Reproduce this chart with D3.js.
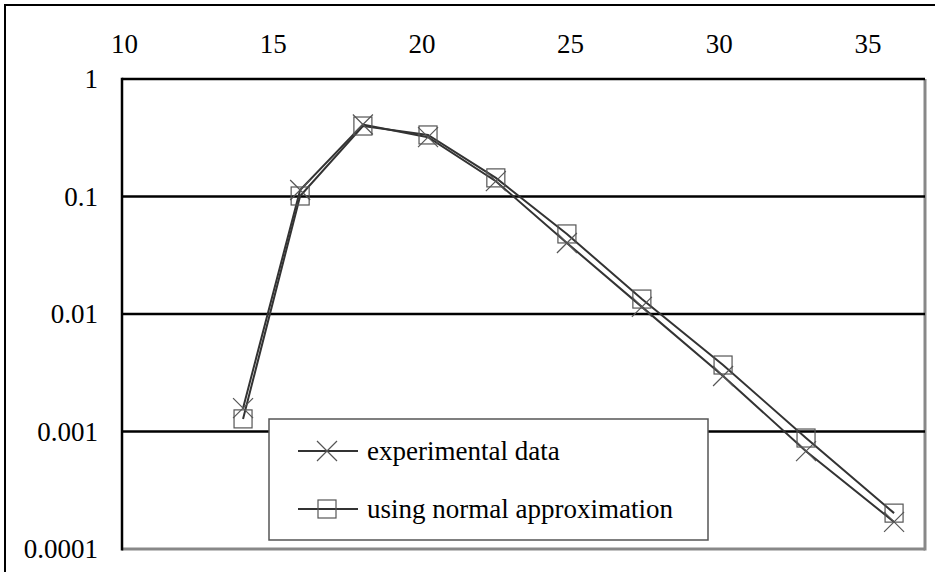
<!DOCTYPE html>
<html>
<head>
<meta charset="utf-8">
<script src="https://cdn.jsdelivr.net/npm/d3@7"></script>
<style>
  body { margin: 0; background: #fff; }
  svg { display: block; }
  text { font-family: "Liberation Serif", Tinos, "Times New Roman", Times, "DejaVu Serif", serif; fill: #000; }
</style>
</head>
<body>
<svg id="chart" width="935" height="572"></svg>
<script>
// values
const xValues = [14.07, 15.99, 18.1, 20.29, 22.57, 24.96, 27.48, 30.21, 33.0, 35.96]
const experimental = [0.00158, 0.1135, 0.41, 0.32, 0.135, 0.0402, 0.0115, 0.00297, 0.00068, 0.00017]
const normalApprox = [0.00128, 0.101, 0.398, 0.334, 0.144, 0.048, 0.0134, 0.00368, 0.00088, 0.000202]
const xTicks = [10, 15, 20, 25, 30, 35]
const yTicks = [1, 0.1, 0.01, 0.001, 0.0001]
const yTickLabels = ['1', '0.1', '0.01', '0.001', '0.0001']
const seriesNames = ['experimental data', 'using normal approximation']

const serif = '"Liberation Serif", Tinos, "Times New Roman", Times, "DejaVu Serif", serif'

const svg = d3.select('#chart')
const plot = { left: 122, top: 79, right: 925, bottom: 549 }

const xScale = d3.scaleLinear().domain([10, 37]).range([plot.left, plot.right])
const yScale = d3.scaleLog().domain([0.0001, 1]).range([plot.bottom, plot.top])

// outer frame (only top and left edges are visible in the picture)
svg.append('rect')
  .attr('x', 5).attr('y', 5)
  .attr('width', 960).attr('height', 600)
  .attr('fill', 'none')
  .attr('stroke', '#000')
  .attr('stroke-width', 2)

// plot area border: gray right / bottom, black left
svg.append('line')
  .attr('x1', plot.left).attr('x2', plot.right)
  .attr('y1', plot.bottom).attr('y2', plot.bottom)
  .attr('stroke', '#888').attr('stroke-width', 3)
svg.append('line')
  .attr('x1', plot.right).attr('x2', plot.right)
  .attr('y1', plot.top).attr('y2', plot.bottom + 1.5)
  .attr('stroke', '#888').attr('stroke-width', 3)

// horizontal gridlines (black)
svg.append('g')
  .selectAll('line')
  .data(yTicks.filter(d => d > 0.0001))
  .enter()
  .append('line')
  .attr('x1', plot.left).attr('x2', plot.right)
  .attr('y1', d => yScale(d)).attr('y2', d => yScale(d))
  .attr('stroke', '#000')
  .attr('stroke-width', 2.5)

svg.append('line')
  .attr('x1', plot.left).attr('x2', plot.left)
  .attr('y1', plot.top - 1.25).attr('y2', plot.bottom + 1.5)
  .attr('stroke', '#000').attr('stroke-width', 2.5)

// x axis labels on top
const xAxis = d3.axisTop(xScale)
  .tickValues(xTicks)
  .tickSize(0)
  .tickPadding(0)
  .tickFormat(d3.format('d'))
svg.append('g')
  .attr('transform', 'translate(2,' + 53 + ')')
  .call(xAxis)
  .attr('font-family', serif)
  .attr('font-size', 27)
  .call(g => g.select('.domain').remove())
  .selectAll('text')
  .attr('dy', 0)

// y axis labels
const yAxis = d3.axisLeft(yScale)
  .tickValues(yTicks)
  .tickSize(0)
  .tickPadding(0)
  .tickFormat((d, i) => yTickLabels[i])
svg.append('g')
  .attr('transform', 'translate(' + 98 + ',0)')
  .call(yAxis)
  .attr('font-family', serif)
  .attr('font-size', 27)
  .call(g => g.select('.domain').remove())
  .selectAll('text')
  .attr('dy', '0.33em')

const line = d3.line()
  .x((d, i) => xScale(xValues[i]))
  .y(d => yScale(d))

function drawCross(g, cx, cy, r) {
  g.append('path')
    .attr('d', `M${cx - r},${cy - r}L${cx + r},${cy + r}M${cx - r},${cy + r}L${cx + r},${cy - r}`)
    .attr('stroke', '#555')
    .attr('stroke-width', 1.2)
    .attr('fill', 'none')
}

function drawSquare(g, cx, cy, r) {
  g.append('rect')
    .attr('x', cx - r).attr('y', cy - r)
    .attr('width', 2 * r).attr('height', 2 * r)
    .attr('stroke', '#555')
    .attr('stroke-width', 1.2)
    .attr('fill', 'none')
}

const seriesG = svg.append('g')

seriesG.append('path')
  .datum(normalApprox)
  .attr('d', line)
  .attr('fill', 'none')
  .attr('stroke', '#333')
  .attr('stroke-width', 2)

seriesG.append('path')
  .datum(experimental)
  .attr('d', line)
  .attr('fill', 'none')
  .attr('stroke', '#333')
  .attr('stroke-width', 2)

normalApprox.forEach((d, i) => drawSquare(seriesG, xScale(xValues[i]), yScale(d), 9))
experimental.forEach((d, i) => drawCross(seriesG, xScale(xValues[i]), yScale(d), 10))

// legend
const legend = svg.append('g')
legend.append('rect')
  .attr('x', 269).attr('y', 419)
  .attr('width', 439).attr('height', 121)
  .attr('fill', '#fff')
  .attr('stroke', '#555')
  .attr('stroke-width', 1.5)

const rows = [451, 509]
rows.forEach((ry, i) => {
  legend.append('line')
    .attr('x1', 298).attr('x2', 358)
    .attr('y1', ry).attr('y2', ry)
    .attr('stroke', '#333').attr('stroke-width', 2)
  if (i === 0) drawCross(legend, 327, ry, 10)
  else drawSquare(legend, 327, ry, 9)
  legend.append('text')
    .attr('x', 367).attr('y', ry)
    .attr('dy', '0.33em')
    .attr('font-family', serif)
    .attr('font-size', 27)
    .text(seriesNames[i])
})
</script>
</body>
</html>
